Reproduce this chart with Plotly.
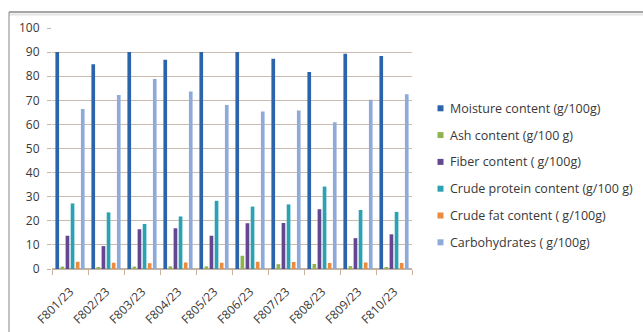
import plotly.graph_objects as go

samples = ["F801/23", "F802/23", "F803/23", "F804/23", "F805/23",
           "F806/23", "F807/23", "F808/23", "F809/23", "F810/23"]

moisture = [90, 85, 90, 86.8, 90, 90, 87.2, 81.7, 89.3, 88.4]
ash = [1.0, 0.5, 1.0, 1.1, 1.1, 5.5, 2.0, 2.1, 1.2, 0.5]
fiber = [13.8, 9.5, 16.5, 16.9, 13.8, 19.0, 19.1, 24.8, 12.8, 14.4]
protein = [27.2, 23.5, 18.7, 21.8, 28.3, 25.9, 26.8, 34.2, 24.5, 23.7]
fat = [3.0, 2.6, 2.4, 2.7, 2.6, 3.0, 2.9, 2.5, 2.7, 2.5]
carbs = [66.4, 72.2, 78.8, 73.6, 68.0, 65.4, 65.8, 60.9, 70.2, 72.5]

series_names = ["Moisture content (g/100g)", "Ash content (g/100 g)",
                "Fiber content ( g/100g)", "Crude protein content (g/100 g)",
                "Crude fat content ( g/100g)", "Carbohydrates ( g/100g)"]
series_values = [moisture, ash, fiber, protein, fat, carbs]
series_colors = ["#2c64ab", "#8fb34e", "#63478f", "#2ba2b4", "#ec8a3e", "#8eaadb"]

fig = go.Figure()
for name, vals, col in zip(series_names, series_values, series_colors):
    fig.add_trace(go.Bar(x=samples, y=vals, name=name, marker_color=col,
                         marker_line_width=0, showlegend=False))

# plot area spans x 52..412 px and y 28..269 px of the 643x332 canvas
L, R, T, B = 52, 412, 28, 269
W, H = R - L, B - T


def px(x):
    return (x - L) / W


def py(y):
    return (B - y) / H


FONT = "Open Sans, Liberation Sans, sans-serif"
TEXT = "#383838"

# legend: small square swatch followed by the series name
shapes = []
annotations = []
row0, row_step = 108.3, 26.8
for i, (name, col) in enumerate(zip(series_names, series_colors)):
    yc = row0 + i * row_step
    shapes.append(dict(type="rect", xref="paper", yref="paper",
                       x0=px(437.5), x1=px(443.5), y0=py(yc + 3), y1=py(yc - 3),
                       fillcolor=col, line=dict(width=0)))
    annotations.append(dict(xref="paper", yref="paper", x=px(448), y=py(yc),
                            xanchor="left", yanchor="middle", showarrow=False,
                            text=name, font=dict(family=FONT, size=12.5, color=TEXT)))

# chart frame: top and left border
shapes += [
    dict(type="line", xref="paper", yref="paper",
         x0=px(9), x1=px(643), y0=py(12), y1=py(12),
         line=dict(color="#8a8a8a", width=1.5)),
    dict(type="line", xref="paper", yref="paper",
         x0=px(9), x1=px(643), y0=py(14.5), y1=py(14.5),
         line=dict(color="#e4e4e4", width=2)),
    dict(type="line", xref="paper", yref="paper",
         x0=px(9), x1=px(9), y0=py(12), y1=py(340),
         line=dict(color="#9a9a9a", width=1.2)),
]

fig.update_layout(
    width=643, height=332,
    margin=dict(l=L, r=643 - R, t=T, b=332 - B, pad=0, autoexpand=False),
    paper_bgcolor="white", plot_bgcolor="white",
    barmode="group", bargap=0.15, bargroupgap=0.28,
    showlegend=False,
    xaxis=dict(type="category", tickangle=-45, automargin=False,
               tickfont=dict(family=FONT, size=12, color=TEXT),
               showline=True, linecolor="#c4b3a3", linewidth=1,
               ticks="outside", tickson="boundaries", ticklen=5, tickcolor="#c4b3a3",
               ticklabelstandoff=10, showgrid=False),
    yaxis=dict(range=[0, 100], dtick=10, automargin=False,
               tickfont=dict(family=FONT, size=12, color=TEXT),
               showgrid=True, gridcolor="#cdbdaf", gridwidth=1,
               showline=False, zeroline=True, zerolinecolor="#c4b3a3",
               ticks="outside", ticklen=4, tickcolor="#c4b3a3",
               ticklabelstandoff=5),
    shapes=shapes,
    annotations=annotations,
)

fig.write_html("out.html")
